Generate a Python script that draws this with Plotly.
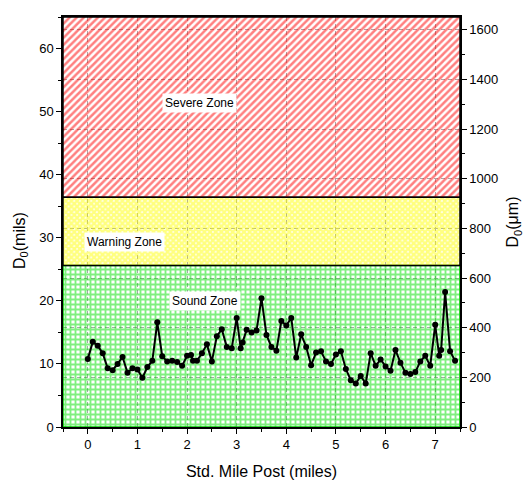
import plotly.graph_objects as go

# Deflection D0 along the route (mile post, mils)
mile_post = [0.0, 0.1, 0.2, 0.3, 0.4, 0.5, 0.6, 0.7, 0.8, 0.9,
             1.0, 1.1, 1.2, 1.3, 1.4, 1.5, 1.6, 1.7, 1.8, 1.9,
             2.0, 2.08, 2.12, 2.2, 2.3, 2.4, 2.5, 2.6, 2.7, 2.8,
             2.9, 3.0, 3.08, 3.12, 3.2, 3.3, 3.4, 3.5, 3.6, 3.7,
             3.8, 3.9, 4.0, 4.1, 4.2, 4.3, 4.4, 4.5, 4.6, 4.7,
             4.8, 4.9, 5.0, 5.1, 5.2, 5.3, 5.4, 5.5, 5.6, 5.7,
             5.8, 5.9, 6.0, 6.1, 6.2, 6.3, 6.4, 6.5, 6.6, 6.7,
             6.8, 6.9, 7.0, 7.08, 7.12, 7.2, 7.3, 7.4]
d0_mils = [10.8, 13.5, 12.9, 11.7, 9.3, 9.0, 10.0, 11.1, 8.6, 9.3,
           9.1, 7.8, 9.5, 10.5, 16.6, 11.2, 10.4, 10.5, 10.3, 9.7,
           11.3, 11.4, 10.5, 10.5, 11.7, 13.1, 10.4, 14.4, 15.5, 12.7,
           12.5, 17.3, 12.5, 13.4, 15.4, 15.0, 15.3, 20.4, 14.6, 12.7,
           12.1, 16.8, 16.1, 17.3, 11.0, 14.7, 12.7, 9.8, 11.8, 12.0,
           10.4, 10.0, 11.5, 12.0, 9.2, 7.4, 6.9, 8.1, 6.9, 11.7,
           9.7, 10.7, 9.6, 8.9, 12.2, 10.2, 8.6, 8.4, 8.7, 10.4,
           11.3, 9.7, 16.2, 11.3, 12.2, 21.4, 12.0, 10.5]

# Zone limits in micrometres
MIL_TO_UM = 25.4
zone_names = ["Sound Zone", "Warning Zone", "Severe Zone"]
zone_low_um = [0, 650, 925]
zone_high_um = [650, 925, 1651]
zone_colors = ["#00e000", "#ffff00", "#ff0000"]
zone_shapes = ["+", "x", "/"]
zone_sizes = [5, 4, 5]
zone_solidity = [0.6, 0.85, 0.5]
zone_edge = ["#00cc00", "black", "black"]
zone_label_pos = [(2.36, 20.0), (0.73, 29.4), (2.26, 51.3)]

X_RANGE = [-0.5, 7.5]
Y_MAX_MILS = 65.0

fig = go.Figure()

for i, name in enumerate(zone_names):
    lo = zone_low_um[i] / MIL_TO_UM
    hi = min(zone_high_um[i] / MIL_TO_UM, Y_MAX_MILS)
    fig.add_trace(go.Scatter(
        x=[X_RANGE[0], X_RANGE[1], X_RANGE[1], X_RANGE[0], X_RANGE[0]],
        y=[lo, lo, hi, hi, lo],
        mode="lines", fill="toself",
        fillcolor="rgba(0,0,0,0)",
        fillpattern=dict(shape=zone_shapes[i], fgcolor=zone_colors[i],
                         size=zone_sizes[i], solidity=zone_solidity[i]),
        line=dict(color=zone_edge[i], width=1.5),
        hoverinfo="skip", showlegend=False,
    ))

fig.add_trace(go.Scatter(
    x=mile_post, y=d0_mils, mode="lines+markers",
    line=dict(color="black", width=2),
    marker=dict(color="black", size=6),
    showlegend=False,
))

# invisible trace to activate the micrometre axis
fig.add_trace(go.Scatter(x=[None], y=[None], yaxis="y2", showlegend=False))

for i, name in enumerate(zone_names):
    lx, ly = zone_label_pos[i]
    fig.add_annotation(x=lx, y=ly, xref="x", yref="y", text=name,
                       showarrow=False, bgcolor="white", borderpad=2,
                       font=dict(size=12, color="black"))

font_family = "Liberation Sans, Arial, sans-serif"
fig.add_annotation(x=(20 - 63) / (532 - 63 - 72), y=(427 - 241) / (427 - 17),
                   xref="paper", yref="paper", text="D<sub>0</sub>(mils)",
                   showarrow=False, textangle=-90, font=dict(size=16, color="black"),
                   xanchor="center", yanchor="middle")

grid_style = dict(showgrid=True, gridcolor="#a8a8a8", griddash="4px,3px", gridwidth=1)

fig.update_layout(
    width=532, height=498,
    margin=dict(l=63, r=72, t=17, b=71),
    paper_bgcolor="white", plot_bgcolor="white",
    font=dict(family=font_family, size=13, color="black"),
    xaxis=dict(
        range=X_RANGE, dtick=1, tick0=0,
        showline=True, linecolor="black", linewidth=1.5, mirror=True,
        ticks="outside", ticklen=5, tickwidth=1.2, tickcolor="black",
        minor=dict(dtick=0.5, ticks="outside", ticklen=3, tickcolor="black"),
        zeroline=False,
        title=dict(text="Std. Mile Post (miles)", font=dict(size=16), standoff=14),
        tickfont=dict(size=13),
        **grid_style,
    ),
    yaxis=dict(
        range=[0, Y_MAX_MILS], dtick=10,
        showline=True, linecolor="black", linewidth=1.5,
        ticks="outside", ticklen=5, tickwidth=1.2, tickcolor="black",
        minor=dict(dtick=5, ticks="outside", ticklen=3, tickcolor="black"),
        showgrid=False, zeroline=False,
        tickfont=dict(size=13),
    ),
    yaxis2=dict(
        range=[0, Y_MAX_MILS * MIL_TO_UM], dtick=200,
        overlaying="y", side="right",
        showline=True, linecolor="black", linewidth=1.5,
        ticks="outside", ticklen=5, tickwidth=1.2, tickcolor="black",
        minor=dict(dtick=100, ticks="outside", ticklen=3, tickcolor="black"),
        zeroline=False,
        title=dict(text="D<sub>0</sub>(μm)", font=dict(size=16), standoff=10),
        tickfont=dict(size=13),
        **grid_style,
    ),
)

fig.write_html("out.html")
